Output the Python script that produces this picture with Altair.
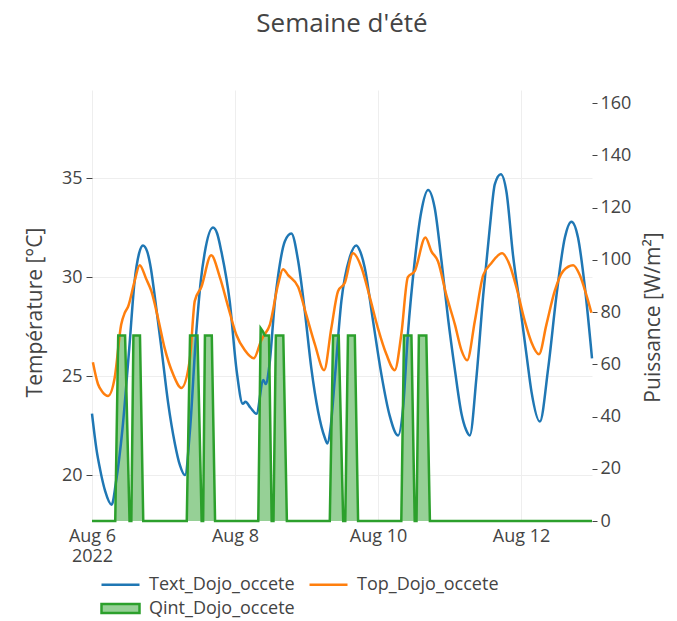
import altair as alt
import pandas as pd

BASE_TIME = "2022-08-06 00:00"

series_names = ["Text_Dojo_occete", "Top_Dojo_occete", "Qint_Dojo_occete"]
series_colors = ["#1f77b4", "#ff7f0e", "#2ca02c"]
qint_fill = "#96d096"

# Text_Dojo_occete (hours since Aug 6 00:00, °C)
text_hours = [0.0, 1.5, 2.7, 4.4, 6.6, 8.0, 10.2, 12.5, 14.3, 15.8, 17.1, 18.5, 19.8, 21.0,
              23.3, 25.5, 27.8, 29.5, 31.2, 32.9, 34.8, 36.5, 37.8, 40.6, 42.0, 43.4, 46.2,
              48.6, 50.6, 51.5, 53.2, 55.2, 57.5, 58.3, 59.5, 61.4, 62.4, 64.7, 66.9, 69.2,
              71.4, 73.6, 75.9, 78.1, 79.0, 80.0, 81.5, 83.7, 86.5, 88.7, 90.0, 91.5, 94.3,
              97.1, 99.9, 102.7, 104.4, 106.0, 108.3, 110.5, 112.8, 115.0, 117.3, 119.5,
              121.8, 124.0, 125.5, 126.8, 129.0, 131.3, 133.5, 135.2, 137.2, 139.1, 141.3,
              143.6, 145.8, 147.5, 150.3, 153.1, 155.9, 158.7, 160.9, 163.1, 165.4, 167.8]
text_temp = [23.1, 21.3, 20.3, 19.2, 18.5, 19.6, 22.3, 26.4, 29.8, 31.2, 31.6, 31.3, 30.4, 29.1,
             26.4, 23.7, 21.6, 20.5, 20.0, 22.3, 26.8, 29.8, 31.2, 32.5, 32.2, 31.3, 28.8,
             25.2, 23.6, 23.7, 23.4, 23.1, 24.8, 24.6, 25.5, 28.8, 30.0, 31.8, 32.2, 30.8,
             28.3, 25.4, 23.2, 21.9, 21.6, 22.3, 24.9, 28.8, 31.0, 31.6, 31.3, 30.5, 27.8,
             25.1, 23.0, 22.0, 23.4, 27.1, 30.8, 33.3, 34.4, 33.5, 30.8, 27.9,
             25.3, 23.1, 22.3, 22.0, 24.9, 29.1, 32.5, 34.7, 35.2, 34.3, 31.1,
             28.6, 26.1, 24.2, 22.7, 25.4, 29.1, 32.0, 32.8, 32.0, 29.5, 25.9]

# Top_Dojo_occete (hours, °C)
top_hours = [0.3, 2.0, 3.5, 5.4, 7.6, 9.8, 11.0, 12.1, 14.3, 16.0, 18.2, 19.9, 22.2, 24.4,
             27.2, 30.0, 32.8, 34.5, 36.7, 40.0, 42.9, 45.7, 48.4, 51.3, 54.3, 56.8, 57.5,
             59.7, 62.4, 64.1, 65.8, 69.2, 71.9, 74.8, 77.9, 80.3, 82.6, 84.8, 87.6, 90.4,
             93.2, 96.0, 98.8, 101.6, 103.8, 106.0, 108.3, 111.9, 113.9, 116.1, 118.9, 121.8,
             124.0, 125.9, 128.5, 131.3, 134.0, 137.6, 140.2, 142.4, 145.2, 147.5, 150.0,
             152.5, 155.3, 158.1, 161.5, 163.7, 165.9, 167.6]
top_temp = [25.7, 24.6, 24.2, 24.0, 24.9, 27.6, 28.2, 28.5, 29.8, 30.6, 29.9, 29.3, 27.9, 26.4,
            25.1, 24.4, 25.8, 28.8, 29.5, 31.1, 30.0, 28.5, 27.1, 26.3, 25.9, 26.8, 27.0,
            27.6, 29.6, 30.4, 30.1, 29.5, 28.1, 26.6, 25.3, 27.4, 29.3, 29.7, 31.2, 30.5,
            29.0, 27.4, 26.1, 25.3, 27.1, 30.0, 30.3, 32.0, 31.3, 30.8, 29.1, 27.6,
            26.3, 25.8, 27.8, 30.1, 30.7, 31.2, 30.6, 29.5, 27.8, 26.7, 26.1,
            27.6, 29.3, 30.3, 30.6, 30.1, 29.1, 28.2]

# Qint_Dojo_occete (hours, W/m²)
qint_hours = [0.0,
              7.8, 8.8, 11.1, 12.6, 13.2, 13.9, 16.1, 17.2,
              31.8, 32.9, 35.4, 36.8, 37.3, 37.9, 40.2, 41.3,
              55.8, 56.6, 57.4, 58.0, 59.4, 60.3, 60.9, 61.7, 64.2, 65.4,
              79.8, 80.9, 82.8, 84.3, 85.0, 85.9, 88.2, 89.3,
              103.8, 104.7, 107.2, 108.3, 108.9, 109.7, 112.2, 113.4,
              167.8]
qint_power = [0,
              0, 71, 71, 0, 0, 71, 71, 0,
              0, 71, 71, 0, 0, 71, 71, 0,
              0, 73.8, 72.5, 71, 71, 0, 0, 71, 71, 0,
              0, 71, 71, 0, 0, 71, 71, 0,
              0, 71, 71, 0, 0, 71, 71, 0,
              0]

temp_ticks = [20, 25, 30, 35]
power_ticks = [0, 20, 40, 60, 80, 100, 120, 140, 160]
date_ticks = [6, 8, 10, 12]

base = pd.Timestamp(BASE_TIME)


def to_time(hours):
    return [(base + pd.Timedelta(hours=h)).strftime("%Y-%m-%dT%H:%M:%S") for h in hours]


temp_df = pd.concat([
    pd.DataFrame({"time": to_time(text_hours), "value": text_temp, "series": series_names[0]}),
    pd.DataFrame({"time": to_time(top_hours), "value": top_temp, "series": series_names[1]}),
], ignore_index=True)
qint_df = pd.DataFrame({"time": to_time(qint_hours), "value": qint_power, "series": series_names[2]})

FONT = "Open Sans"
TXT = "#444"
TICK_FS = 18
AXT_FS = 21

x_domain = [to_time([0.0])[0], to_time([167.8])[0]]
x_scale = alt.Scale(domain=x_domain, nice=False)

x_axis = alt.Axis(
    values=[alt.DateTime(year=2022, month=8, date=d) for d in date_ticks],
    labelExpr="date(datum.value) == 6 ? [timeFormat(datum.value, '%b %-d'), '2022'] : timeFormat(datum.value, '%b %-d')",
    grid=True, gridColor="#eeeeee", ticks=False, domain=False,
    labelPadding=6, labelFont=FONT, labelFontSize=TICK_FS, labelColor=TXT,
    labelLineHeight=20, labelOverlap=False, labelFlush=False, labelBound=False,
    title=None,
)

line_legend = alt.Legend(
    title=None, orient="none", legendX=8, legendY=474, columns=2,
    symbolType="stroke", symbolSize=1444, symbolStrokeWidth=2.5,
    labelFont=FONT, labelFontSize=TICK_FS, labelColor=TXT, labelOffset=8,
    columnPadding=9,
)
area_legend = alt.Legend(
    title=None, orient="none", legendX=8, legendY=498,
    symbolType="M-1,-0.24L1,-0.24L1,0.24L-1,0.24Z", symbolSize=1444,
    symbolStrokeColor=series_colors[2], symbolStrokeWidth=2.5, symbolOpacity=1,
    labelFont=FONT, labelFontSize=TICK_FS, labelColor=TXT, labelOffset=8,
)

x_enc = alt.X("time:T", scale=x_scale, axis=x_axis)

lines = alt.Chart(temp_df).mark_line(strokeWidth=2.5, interpolate="monotone").encode(
    x=x_enc,
    y=alt.Y("value:Q", scale=alt.Scale(domain=[17.68, 39.45], nice=False, zero=False),
            axis=alt.Axis(values=temp_ticks, title="Température [°C]", titleFont=FONT,
                          orient="left",
                          titleFontSize=AXT_FS, titleFontWeight="normal", titleColor=TXT,
                          titleX=-57, titleY=222, titleAngle=270, titleBaseline="middle",
                          grid=True, gridColor="#eeeeee", domain=False,
                          tickSize=6, tickColor=TXT, labelPadding=4,
                          labelFont=FONT, labelFontSize=TICK_FS, labelColor=TXT)),
    stroke=alt.Stroke("series:N", scale=alt.Scale(domain=series_names[:2], range=series_colors[:2]),
                      legend=line_legend),
)

power_scale = alt.Scale(domain=[0, 165], nice=False)
power_axis = alt.Axis(values=power_ticks, orient="right", title="Puissance [W/m²]",
                      titleFont=FONT, titleFontSize=AXT_FS, titleFontWeight="normal",
                      titleColor=TXT, titleX=61, titleY=227, titleAngle=270,
                      titleBaseline="middle", grid=False, domain=False,
                      tickSize=5, tickColor=TXT, labelPadding=3,
                      labelFont=FONT, labelFontSize=TICK_FS, labelColor=TXT)

area = alt.Chart(qint_df).mark_area(fillOpacity=1).encode(
    x=x_enc,
    y=alt.Y("value:Q", scale=power_scale, axis=power_axis),
    fill=alt.Fill("series:N", scale=alt.Scale(domain=series_names[2:], range=[qint_fill]),
                  legend=area_legend),
)
area_line = alt.Chart(qint_df).mark_line(strokeWidth=2.5, color=series_colors[2]).encode(
    x=x_enc,
    y=alt.Y("value:Q", scale=power_scale, axis=None),
)

chart = alt.layer(area, lines, area_line).resolve_scale(y="independent").properties(
    width=500, height=431,
    autosize=alt.AutoSizeParams(type="none"),
    padding={"left": 84, "top": 82, "right": 77, "bottom": 100},
    title=alt.TitleParams("Semaine d'été", font=FONT, fontSize=26, fontWeight="normal",
                          color=TXT, anchor="middle", offset=53),
).configure_view(stroke=None)

chart.save("out.html", embed_options={"renderer": "svg", "actions": False})
